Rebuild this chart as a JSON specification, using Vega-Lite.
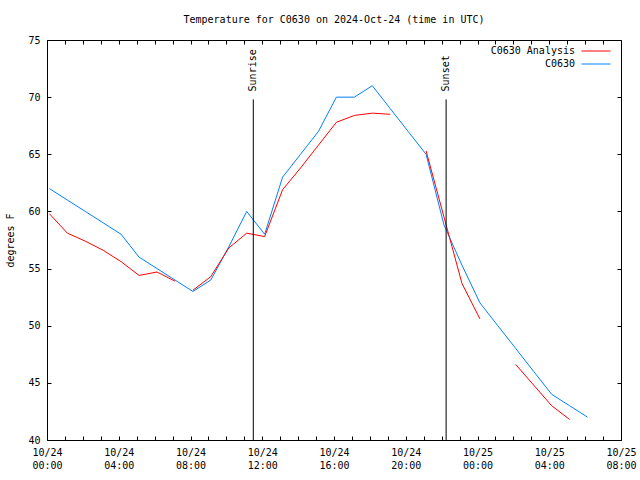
{
  "$schema": "https://vega.github.io/schema/vega-lite/v6.json",
  "width": 574,
  "height": 400,
  "autosize": {"type": "none"},
  "padding": {"left": 47, "top": 40, "right": 19, "bottom": 40},
  "background": "white",
  "config": {
    "font": "DejaVu Sans Mono",
    "view": {"stroke": "black", "strokeWidth": 1},
    "axis": {"grid": false, "domain": false, "tickColor": "black", "labelColor": "black", "labelFont": "DejaVu Sans Mono", "labelFontSize": 10, "titleFont": "DejaVu Sans Mono", "titleFontSize": 10, "titleFontWeight": "normal", "titleColor": "black"},
    "legend": {"labelFont": "DejaVu Sans Mono", "labelFontSize": 10, "labelColor": "black"}
  },
  "title": {"text": "Temperature for C0630 on 2024-Oct-24 (time in UTC)", "font": "DejaVu Sans Mono", "fontSize": 10, "fontWeight": "normal", "color": "black", "anchor": "middle", "offset": 10},
  "datasets": {
    "temps": [
      {"series": "C0630", "seg": "b", "time": "2024-10-24T00:08:00Z", "temp": 62},
      {"series": "C0630", "seg": "b", "time": "2024-10-24T01:08:00Z", "temp": 61},
      {"series": "C0630", "seg": "b", "time": "2024-10-24T02:08:00Z", "temp": 60},
      {"series": "C0630", "seg": "b", "time": "2024-10-24T03:08:00Z", "temp": 59},
      {"series": "C0630", "seg": "b", "time": "2024-10-24T04:08:00Z", "temp": 58},
      {"series": "C0630", "seg": "b", "time": "2024-10-24T05:08:00Z", "temp": 56},
      {"series": "C0630", "seg": "b", "time": "2024-10-24T06:08:00Z", "temp": 55},
      {"series": "C0630", "seg": "b", "time": "2024-10-24T07:08:00Z", "temp": 54},
      {"series": "C0630", "seg": "b", "time": "2024-10-24T08:08:00Z", "temp": 53},
      {"series": "C0630", "seg": "b", "time": "2024-10-24T09:08:00Z", "temp": 54},
      {"series": "C0630", "seg": "b", "time": "2024-10-24T10:08:00Z", "temp": 56.9},
      {"series": "C0630", "seg": "b", "time": "2024-10-24T11:08:00Z", "temp": 60},
      {"series": "C0630", "seg": "b", "time": "2024-10-24T12:08:00Z", "temp": 58},
      {"series": "C0630", "seg": "b", "time": "2024-10-24T13:08:00Z", "temp": 63},
      {"series": "C0630", "seg": "b", "time": "2024-10-24T14:08:00Z", "temp": 65},
      {"series": "C0630", "seg": "b", "time": "2024-10-24T15:08:00Z", "temp": 67},
      {"series": "C0630", "seg": "b", "time": "2024-10-24T16:08:00Z", "temp": 70},
      {"series": "C0630", "seg": "b", "time": "2024-10-24T17:08:00Z", "temp": 70},
      {"series": "C0630", "seg": "b", "time": "2024-10-24T18:08:00Z", "temp": 71},
      {"series": "C0630", "seg": "b", "time": "2024-10-24T19:08:00Z", "temp": 69},
      {"series": "C0630", "seg": "b", "time": "2024-10-24T20:08:00Z", "temp": 67},
      {"series": "C0630", "seg": "b", "time": "2024-10-24T21:08:00Z", "temp": 65},
      {"series": "C0630", "seg": "b", "time": "2024-10-24T22:08:00Z", "temp": 58.8},
      {"series": "C0630", "seg": "b", "time": "2024-10-24T23:08:00Z", "temp": 55.3},
      {"series": "C0630", "seg": "b", "time": "2024-10-25T00:08:00Z", "temp": 52},
      {"series": "C0630", "seg": "b", "time": "2024-10-25T01:08:00Z", "temp": 50},
      {"series": "C0630", "seg": "b", "time": "2024-10-25T02:08:00Z", "temp": 48},
      {"series": "C0630", "seg": "b", "time": "2024-10-25T03:08:00Z", "temp": 46},
      {"series": "C0630", "seg": "b", "time": "2024-10-25T04:08:00Z", "temp": 44},
      {"series": "C0630", "seg": "b", "time": "2024-10-25T05:08:00Z", "temp": 43},
      {"series": "C0630", "seg": "b", "time": "2024-10-25T06:08:00Z", "temp": 42},
      {"series": "C0630 Analysis", "seg": "a1", "time": "2024-10-24T00:08:00Z", "temp": 59.8},
      {"series": "C0630 Analysis", "seg": "a1", "time": "2024-10-24T01:08:00Z", "temp": 58.1},
      {"series": "C0630 Analysis", "seg": "a1", "time": "2024-10-24T02:08:00Z", "temp": 57.4},
      {"series": "C0630 Analysis", "seg": "a1", "time": "2024-10-24T03:08:00Z", "temp": 56.6},
      {"series": "C0630 Analysis", "seg": "a1", "time": "2024-10-24T04:08:00Z", "temp": 55.6},
      {"series": "C0630 Analysis", "seg": "a1", "time": "2024-10-24T05:08:00Z", "temp": 54.4},
      {"series": "C0630 Analysis", "seg": "a1", "time": "2024-10-24T06:08:00Z", "temp": 54.7},
      {"series": "C0630 Analysis", "seg": "a1", "time": "2024-10-24T07:08:00Z", "temp": 53.9},
      {"series": "C0630 Analysis", "seg": "a2", "time": "2024-10-24T08:08:00Z", "temp": 53.1},
      {"series": "C0630 Analysis", "seg": "a2", "time": "2024-10-24T09:08:00Z", "temp": 54.3},
      {"series": "C0630 Analysis", "seg": "a2", "time": "2024-10-24T10:08:00Z", "temp": 56.8},
      {"series": "C0630 Analysis", "seg": "a2", "time": "2024-10-24T11:08:00Z", "temp": 58.1},
      {"series": "C0630 Analysis", "seg": "a2", "time": "2024-10-24T12:08:00Z", "temp": 57.8},
      {"series": "C0630 Analysis", "seg": "a2", "time": "2024-10-24T13:08:00Z", "temp": 61.9},
      {"series": "C0630 Analysis", "seg": "a2", "time": "2024-10-24T14:08:00Z", "temp": 63.8},
      {"series": "C0630 Analysis", "seg": "a2", "time": "2024-10-24T15:08:00Z", "temp": 65.8},
      {"series": "C0630 Analysis", "seg": "a2", "time": "2024-10-24T16:08:00Z", "temp": 67.8},
      {"series": "C0630 Analysis", "seg": "a2", "time": "2024-10-24T17:08:00Z", "temp": 68.4},
      {"series": "C0630 Analysis", "seg": "a2", "time": "2024-10-24T18:08:00Z", "temp": 68.6},
      {"series": "C0630 Analysis", "seg": "a2", "time": "2024-10-24T19:08:00Z", "temp": 68.5},
      {"series": "C0630 Analysis", "seg": "a3", "time": "2024-10-24T21:08:00Z", "temp": 65.3},
      {"series": "C0630 Analysis", "seg": "a3", "time": "2024-10-24T22:08:00Z", "temp": 59.5},
      {"series": "C0630 Analysis", "seg": "a3", "time": "2024-10-24T23:08:00Z", "temp": 53.7},
      {"series": "C0630 Analysis", "seg": "a3", "time": "2024-10-25T00:08:00Z", "temp": 50.6},
      {"series": "C0630 Analysis", "seg": "a4", "time": "2024-10-25T02:08:00Z", "temp": 46.6},
      {"series": "C0630 Analysis", "seg": "a4", "time": "2024-10-25T03:08:00Z", "temp": 44.8},
      {"series": "C0630 Analysis", "seg": "a4", "time": "2024-10-25T04:08:00Z", "temp": 43.0},
      {"series": "C0630 Analysis", "seg": "a4", "time": "2024-10-25T05:08:00Z", "temp": 41.8}
    ],
    "sun": [
      {"event": "Sunrise", "time": "2024-10-24T11:30:00Z", "top": 69.8, "bottom": 40},
      {"event": "Sunset", "time": "2024-10-24T22:15:00Z", "top": 69.8, "bottom": 40}
    ]
  },
  "layer": [
    {
      "data": {"name": "temps"},
      "mark": {"type": "line", "strokeWidth": 1, "interpolate": "linear"},
      "encoding": {
        "x": {
          "field": "time", "type": "temporal",
          "scale": {"type": "utc", "domain": ["2024-10-24T00:00:00Z", "2024-10-25T08:00:00Z"], "nice": false},
          "axis": {
            "orient": "bottom", "title": null,
            "values": ["2024-10-24T00:00:00Z","2024-10-24T01:00:00Z","2024-10-24T02:00:00Z","2024-10-24T03:00:00Z","2024-10-24T04:00:00Z","2024-10-24T05:00:00Z","2024-10-24T06:00:00Z","2024-10-24T07:00:00Z","2024-10-24T08:00:00Z","2024-10-24T09:00:00Z","2024-10-24T10:00:00Z","2024-10-24T11:00:00Z","2024-10-24T12:00:00Z","2024-10-24T13:00:00Z","2024-10-24T14:00:00Z","2024-10-24T15:00:00Z","2024-10-24T16:00:00Z","2024-10-24T17:00:00Z","2024-10-24T18:00:00Z","2024-10-24T19:00:00Z","2024-10-24T20:00:00Z","2024-10-24T21:00:00Z","2024-10-24T22:00:00Z","2024-10-24T23:00:00Z","2024-10-25T00:00:00Z","2024-10-25T01:00:00Z","2024-10-25T02:00:00Z","2024-10-25T03:00:00Z","2024-10-25T04:00:00Z","2024-10-25T05:00:00Z","2024-10-25T06:00:00Z","2024-10-25T07:00:00Z","2024-10-25T08:00:00Z"],
            "labelExpr": "utcFormat(datum.value, '%H') % 4 == 0 ? [utcFormat(datum.value, '%m/%d'), utcFormat(datum.value, '%H:%M')] : ''",
            "tickSize": -4, "labelPadding": 11, "labelOverlap": false, "labelFlush": false, "labelLineHeight": 13
          }
        },
        "y": {
          "field": "temp", "type": "quantitative",
          "scale": {"domain": [40, 75], "nice": false, "zero": false},
          "axis": {"orient": "left", "title": "degrees F", "values": [40,45,50,55,60,65,70,75], "tickSize": -4, "labelPadding": 11, "titlePadding": 12}
        },
        "color": {
          "field": "series", "type": "nominal",
          "scale": {"domain": ["C0630 Analysis", "C0630"], "range": ["#ff0000", "#0080ff"]},
          "legend": {"title": null, "orient": "none", "legendX": 541, "legendY": 3, "symbolType": "M-2,0L2,0", "symbolSize": 210, "symbolStrokeWidth": 1, "symbolFillColor": "transparent", "labelAlign": "right", "labelOffset": -29, "rowPadding": 0, "labelLimit": 200}
        },
        "detail": {"field": "seg"}
      }
    },
    {
      "data": {"name": "sun"},
      "mark": {"type": "rule", "color": "black", "strokeWidth": 1},
      "encoding": {
        "x": {"field": "time", "type": "temporal", "axis": {"orient": "top", "title": null, "labels": false, "tickSize": -4, "values": ["2024-10-24T00:00:00Z","2024-10-24T01:00:00Z","2024-10-24T02:00:00Z","2024-10-24T03:00:00Z","2024-10-24T04:00:00Z","2024-10-24T05:00:00Z","2024-10-24T06:00:00Z","2024-10-24T07:00:00Z","2024-10-24T08:00:00Z","2024-10-24T09:00:00Z","2024-10-24T10:00:00Z","2024-10-24T11:00:00Z","2024-10-24T12:00:00Z","2024-10-24T13:00:00Z","2024-10-24T14:00:00Z","2024-10-24T15:00:00Z","2024-10-24T16:00:00Z","2024-10-24T17:00:00Z","2024-10-24T18:00:00Z","2024-10-24T19:00:00Z","2024-10-24T20:00:00Z","2024-10-24T21:00:00Z","2024-10-24T22:00:00Z","2024-10-24T23:00:00Z","2024-10-25T00:00:00Z","2024-10-25T01:00:00Z","2024-10-25T02:00:00Z","2024-10-25T03:00:00Z","2024-10-25T04:00:00Z","2024-10-25T05:00:00Z","2024-10-25T06:00:00Z","2024-10-25T07:00:00Z","2024-10-25T08:00:00Z"]}},
        "y": {"field": "top", "type": "quantitative", "axis": {"orient": "right", "title": null, "labels": false, "tickSize": -4, "values": [40,45,50,55,60,65,70,75]}},
        "y2": {"field": "bottom"}
      }
    },
    {
      "data": {"name": "sun"},
      "mark": {"type": "text", "angle": 270, "align": "left", "baseline": "middle", "dx": 8, "font": "DejaVu Sans Mono", "fontSize": 10, "color": "black"},
      "encoding": {
        "x": {"field": "time", "type": "temporal", "axis": null},
        "y": {"field": "top", "type": "quantitative", "axis": null},
        "text": {"field": "event"}
      }
    }
  ]
}
